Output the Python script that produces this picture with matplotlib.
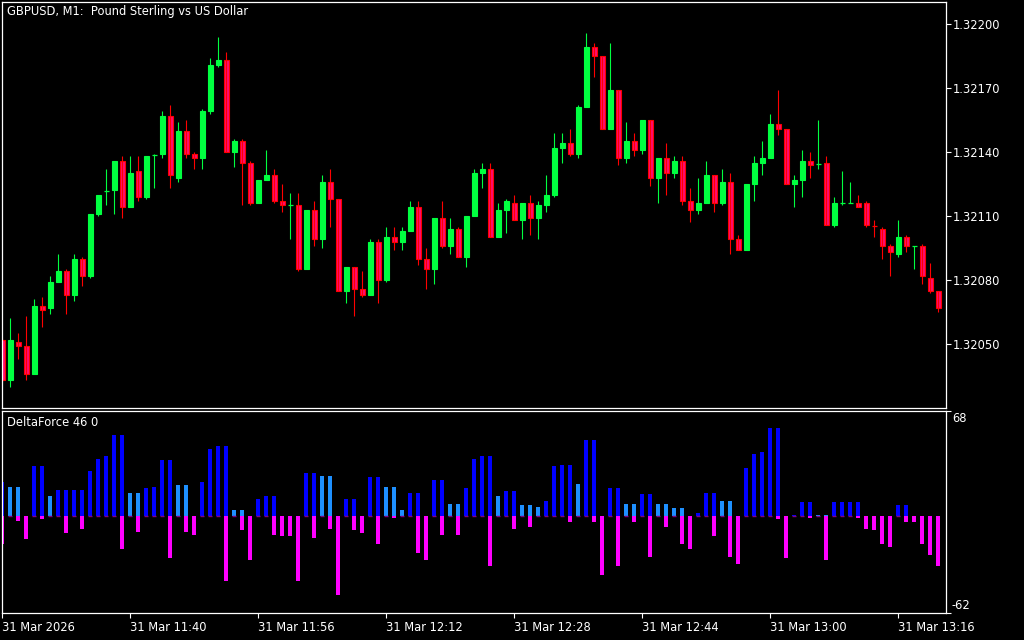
#!/usr/bin/env python3

import matplotlib
matplotlib.use('Agg')
import matplotlib.pyplot as plt
from matplotlib.patches import Rectangle
from matplotlib.transforms import blended_transform_factory, offset_copy

# GBPUSD M1 candles, 11:24 .. 13:21
opens = [
	1.32052, 1.32033, 1.32051, 1.32049, 1.32036, 1.32068, 1.32067, 1.32079, 1.32084, 1.32073,
	1.32090, 1.32082, 1.32111, 1.32121, 1.32122, 1.32136, 1.32114, 1.32131, 1.32119, 1.32138,
	1.32139, 1.32157, 1.32128, 1.32150, 1.32139, 1.32137, 1.32159, 1.32181, 1.32183, 1.32140,
	1.32145, 1.32135, 1.32116, 1.32127, 1.32129, 1.32117, 1.32115, 1.32115, 1.32085, 1.32113,
	1.32099, 1.32126, 1.32118, 1.32075, 1.32086, 1.32076, 1.32073, 1.32098, 1.32080, 1.32100,
	1.32098, 1.32103, 1.32114, 1.32090, 1.32085, 1.32109, 1.32096, 1.32104, 1.32091, 1.32110,
	1.32130, 1.32132, 1.32100, 1.32113, 1.32116, 1.32108, 1.32116, 1.32109, 1.32115, 1.32120,
	1.32142, 1.32144, 1.32139, 1.32161, 1.32189, 1.32185, 1.32151, 1.32169, 1.32137, 1.32145,
	1.32141, 1.32155, 1.32128, 1.32137, 1.32130, 1.32136, 1.32117, 1.32113, 1.32116, 1.32129,
	1.32116, 1.32126, 1.32099, 1.32094, 1.32125, 1.32135, 1.32137, 1.32153, 1.32151, 1.32125,
	1.32127, 1.32136, 1.32134, 1.32135, 1.32106, 1.32116, 1.32116, 1.32116, 1.32116, 1.32106,
	1.32104, 1.32096, 1.32092, 1.32100, 1.32096, 1.32096, 1.32081, 1.32075,
]
highs = [
	1.32053, 1.32062, 1.32055, 1.32063, 1.32071, 1.32072, 1.32082, 1.32092, 1.32085, 1.32092,
	1.32091, 1.32111, 1.32120, 1.32132, 1.32136, 1.32138, 1.32138, 1.32138, 1.32138, 1.32139,
	1.32159, 1.32162, 1.32154, 1.32155, 1.32140, 1.32160, 1.32184, 1.32194, 1.32187, 1.32146,
	1.32146, 1.32136, 1.32127, 1.32141, 1.32132, 1.32125, 1.32121, 1.32121, 1.32113, 1.32117,
	1.32129, 1.32132, 1.32118, 1.32086, 1.32086, 1.32084, 1.32099, 1.32099, 1.32105, 1.32105,
	1.32105, 1.32117, 1.32117, 1.32095, 1.32109, 1.32117, 1.32109, 1.32105, 1.32110, 1.32132,
	1.32135, 1.32135, 1.32116, 1.32118, 1.32120, 1.32116, 1.32120, 1.32117, 1.32129, 1.32149,
	1.32149, 1.32151, 1.32162, 1.32196, 1.32191, 1.32185, 1.32191, 1.32169, 1.32154, 1.32149,
	1.32155, 1.32155, 1.32137, 1.32144, 1.32138, 1.32138, 1.32123, 1.32128, 1.32136, 1.32129,
	1.32132, 1.32130, 1.32101, 1.32125, 1.32138, 1.32145, 1.32158, 1.32169, 1.32151, 1.32129,
	1.32141, 1.32140, 1.32155, 1.32138, 1.32119, 1.32131, 1.32126, 1.32120, 1.32117, 1.32108,
	1.32105, 1.32097, 1.32108, 1.32101, 1.32096, 1.32097, 1.32088, 1.32075,
]
lows = [
	1.32032, 1.32030, 1.32043, 1.32033, 1.32036, 1.32058, 1.32064, 1.32079, 1.32064, 1.32070,
	1.32077, 1.32081, 1.32110, 1.32115, 1.32111, 1.32109, 1.32114, 1.32117, 1.32118, 1.32123,
	1.32137, 1.32123, 1.32126, 1.32137, 1.32132, 1.32132, 1.32158, 1.32180, 1.32140, 1.32133,
	1.32115, 1.32115, 1.32116, 1.32127, 1.32116, 1.32112, 1.32099, 1.32084, 1.32085, 1.32096,
	1.32095, 1.32105, 1.32075, 1.32069, 1.32063, 1.32072, 1.32073, 1.32069, 1.32079, 1.32094,
	1.32094, 1.32103, 1.32087, 1.32076, 1.32078, 1.32095, 1.32092, 1.32091, 1.32086, 1.32110,
	1.32123, 1.32100, 1.32100, 1.32102, 1.32108, 1.32099, 1.32101, 1.32099, 1.32112, 1.32119,
	1.32135, 1.32138, 1.32137, 1.32161, 1.32175, 1.32151, 1.32151, 1.32134, 1.32135, 1.32138,
	1.32139, 1.32124, 1.32116, 1.32120, 1.32128, 1.32115, 1.32107, 1.32111, 1.32116, 1.32112,
	1.32115, 1.32092, 1.32094, 1.32094, 1.32117, 1.32129, 1.32137, 1.32148, 1.32125, 1.32114,
	1.32119, 1.32128, 1.32132, 1.32106, 1.32105, 1.32115, 1.32116, 1.32114, 1.32105, 1.32100,
	1.32090, 1.32082, 1.32091, 1.32093, 1.32085, 1.32078, 1.32074, 1.32065,
]
closes = [
	1.32033, 1.32052, 1.32049, 1.32036, 1.32068, 1.32066, 1.32079, 1.32084, 1.32073, 1.32090,
	1.32082, 1.32111, 1.32120, 1.32122, 1.32136, 1.32114, 1.32130, 1.32119, 1.32138, 1.32139,
	1.32157, 1.32129, 1.32150, 1.32139, 1.32137, 1.32159, 1.32181, 1.32183, 1.32140, 1.32145,
	1.32135, 1.32116, 1.32127, 1.32129, 1.32117, 1.32115, 1.32115, 1.32085, 1.32113, 1.32099,
	1.32126, 1.32118, 1.32075, 1.32086, 1.32076, 1.32073, 1.32098, 1.32080, 1.32100, 1.32098,
	1.32103, 1.32114, 1.32090, 1.32085, 1.32109, 1.32096, 1.32104, 1.32091, 1.32110, 1.32130,
	1.32132, 1.32100, 1.32113, 1.32117, 1.32108, 1.32116, 1.32109, 1.32115, 1.32120, 1.32142,
	1.32144, 1.32139, 1.32161, 1.32189, 1.32185, 1.32151, 1.32169, 1.32137, 1.32145, 1.32141,
	1.32155, 1.32128, 1.32137, 1.32130, 1.32136, 1.32117, 1.32113, 1.32116, 1.32129, 1.32116,
	1.32126, 1.32099, 1.32094, 1.32125, 1.32135, 1.32137, 1.32153, 1.32151, 1.32125, 1.32127,
	1.32136, 1.32134, 1.32135, 1.32106, 1.32116, 1.32116, 1.32116, 1.32114, 1.32106, 1.32105,
	1.32096, 1.32093, 1.32100, 1.32096, 1.32096, 1.32082, 1.32075, 1.32067,
]

# DeltaForce histogram: positive part, its strength flag (1 = strong), negative part
df_pos = [
	22.0, 18.7, 18.7, 0, 32.2, 32.2, 12.9, 16.7, 16.7, 16.7,
	16.7, 29.0, 36.7, 38.6, 52.1, 52.1, 14.8, 14.8, 18.0, 18.7,
	36.0, 36.0, 19.9, 19.9, 0, 22.1, 43.1, 45.0, 45.0, 3.9,
	3.9, 0, 10.9, 12.9, 12.9, 0, 0, 0, 27.7, 27.7,
	25.7, 25.7, 0, 10.9, 10.9, 0, 25.1, 25.1, 18.7, 18.7,
	3.9, 14.8, 14.8, 0, 23.2, 23.2, 7.7, 7.7, 18.0, 36.7,
	38.6, 38.6, 12.9, 16.1, 16.1, 7.1, 7.1, 5.8, 9.7, 32.2,
	32.8, 32.8, 20.6, 48.9, 48.9, 0, 18.0, 18.0, 7.7, 7.7,
	14.2, 14.2, 7.7, 7.7, 5.1, 5.1, 0, 1.9, 14.8, 14.8,
	9.7, 9.7, 0, 30.9, 39.9, 41.2, 56.6, 56.6, 0, 0.6,
	9.0, 9.0, 0.6, 0.6, 9.0, 9.0, 9.0, 9.0, 0, 0,
	0, 0, 7.1, 7.1, 0, 0, 0, 0,
]
df_strong = [
	1, 0, 0, 0, 1, 1, 0, 1, 1, 1,
	1, 1, 1, 1, 1, 1, 0, 0, 1, 1,
	1, 1, 0, 0, 0, 1, 1, 1, 1, 0,
	0, 0, 1, 1, 1, 0, 0, 0, 1, 1,
	0, 0, 0, 1, 1, 0, 1, 1, 0, 0,
	0, 1, 1, 0, 1, 1, 0, 0, 1, 1,
	1, 1, 0, 1, 1, 0, 0, 0, 1, 1,
	1, 1, 0, 1, 1, 0, 1, 1, 0, 0,
	1, 1, 0, 0, 0, 0, 0, 1, 1, 1,
	0, 0, 0, 1, 1, 1, 1, 1, 0, 1,
	1, 1, 0, 0, 1, 1, 1, 1, 0, 0,
	0, 0, 1, 1, 0, 0, 0, 0,
]
df_neg = [
	-17.6, 0, -3.0, -14.6, 0, -1.7, 0, 0, -10.7, 0,
	-8.2, 0, 0, 0, 0, -21.0, 0, -10.1, 0, 0,
	0, -26.8, 0, -10.1, -12.0, 0, 0, 0, -41.6, 0,
	-8.8, -28.1, 0, 0, -12.0, -12.7, -12.7, -41.6, 0, -13.9,
	0, -8.2, -50.6, 0, -8.8, -10.7, 0, -17.8, 0, -1.1,
	0, 0, -23.6, -28.1, 0, -12.0, 0, -12.0, 0, 0,
	0, -32.0, 0, 0, -8.2, 0, -6.9, 0, 0, 0,
	0, -3.6, 0, 0, -3.6, -37.8, 0, -32.0, 0, -3.6,
	0, -26.2, 0, -6.9, 0, -17.8, -21.0, 0, 0, -12.7,
	0, -26.2, -30.7, 0, 0, 0, 0, -1.9, -26.8, 0,
	0, -1.1, 0, -28.1, 0, 0, 0, -1.1, -8.2, -8.8,
	-17.8, -19.7, 0, -3.6, -3.6, -17.8, -24.9, -32.0,
]

price_ticks = [1.32050, 1.32080, 1.32110, 1.32140, 1.32170, 1.32200]
time_tick_idx = [0, 16, 32, 48, 64, 80, 96, 112]
time_labels = ['31 Mar 2026', '31 Mar 11:40', '31 Mar 11:56', '31 Mar 12:12',
	'31 Mar 12:28', '31 Mar 12:44', '31 Mar 13:00', '31 Mar 13:16']
ind_ticks = [-62, 68]

BULL = '#00ff40'
BEAR_FILL = '#ff0a70'
BEAR_EDGE = '#ff0000'
FS = 8.3

W, H = 1024, 640
fig = plt.figure(figsize=(W / 100, H / 100), dpi=100, facecolor='black')

def px_axes(left, top, right, bottom) :
	return fig.add_axes([left / W, 1 - bottom / H, (right - left) / W, (bottom - top) / H])

ax = px_axes(2, 2, 946, 408)
ax2 = px_axes(2, 410.5, 946, 613)

for a in (ax, ax2) :
	a.set_facecolor('black')
	for s in a.spines.values() :
		s.set_color('white')
		s.set_linewidth(0.9)
	a.set_xlim(-0.04, 117.96)

n = len(opens)
bw = 0.3
for i in range(n) :
	o, h, l, c = opens[i], highs[i], lows[i], closes[i]
	up = c >= o
	wick = BULL if up else BEAR_EDGE
	ax.vlines(i, l, h, color=wick, linewidth=0.8)
	lo, hi = min(o, c), max(o, c)
	if hi - lo < 0.000015 :
		ax.hlines((o + c) / 2, i - bw, i + bw, color=wick, linewidth=0.9)
	else :
		ax.add_patch(Rectangle((i - bw, lo), 2 * bw, hi - lo,
			facecolor=BULL if up else BEAR_FILL,
			edgecolor=BULL if up else BEAR_EDGE, linewidth=0.8))

ax.set_ylim(1.32020, 1.322103)
ax.yaxis.tick_right()
ax.set_yticks(price_ticks)
ax.set_yticklabels(['%.5f' % p for p in price_ticks])
ax.tick_params(axis='y', colors='white', labelsize=FS, length=3.5, width=0.8, pad=1.5)
ax.set_xticks([])
ax.text(5 / 944, 1 - 3 / 406, 'GBPUSD, M1:  Pound Sterling vs US Dollar', transform=ax.transAxes,
	color='white', fontsize=FS, ha='left', va='top')

# indicator
x = list(range(n))
pos_colors = ['#0000ff' if s else '#1e90ff' for s in df_strong]
ax2.bar(x, df_pos, width=0.5, color=pos_colors, linewidth=0)
ax2.bar(x, df_neg, width=0.5, color='#ff00ff', linewidth=0)
zero_idx = [i for i in x if df_neg[i] == 0]
ax2.hlines([0] * len(zero_idx), [i - 0.25 for i in zero_idx], [i + 0.25 for i in zero_idx],
	color='#800080', linewidth=1.0)

ax2.set_ylim(-62, 68)
ax2.yaxis.tick_right()
ax2.set_yticks(ind_ticks)
ax2.set_yticklabels([])
ax2.tick_params(axis='y', colors='white', length=3.5, width=0.8)
# scale labels: top one hangs below its tick, bottom one sits above its tick
trans = offset_copy(blended_transform_factory(ax2.transAxes, ax2.transData), fig=fig, x=6, y=0, units='dots')
ax2.text(1, ind_ticks[1], '%d' % ind_ticks[1], transform=offset_copy(trans, fig=fig, y=-2, units='dots'),
	color='white', fontsize=FS, ha='left', va='top')
ax2.text(1, ind_ticks[0], '%d' % ind_ticks[0], transform=offset_copy(trans, fig=fig, y=1, units='dots'),
	color='white', fontsize=FS, ha='left', va='bottom')

ax2.set_xticks(time_tick_idx)
ax2.set_xticklabels(time_labels, ha='left')
ax2.tick_params(axis='x', colors='white', labelsize=FS, length=3.5, width=0.8, pad=2)
ax2.text(5 / 944, 1 - 5 / 202, 'DeltaForce 46 0', transform=ax2.transAxes,
	color='white', fontsize=FS, ha='left', va='top')

fig.savefig('out.png', dpi=100, facecolor='black')
